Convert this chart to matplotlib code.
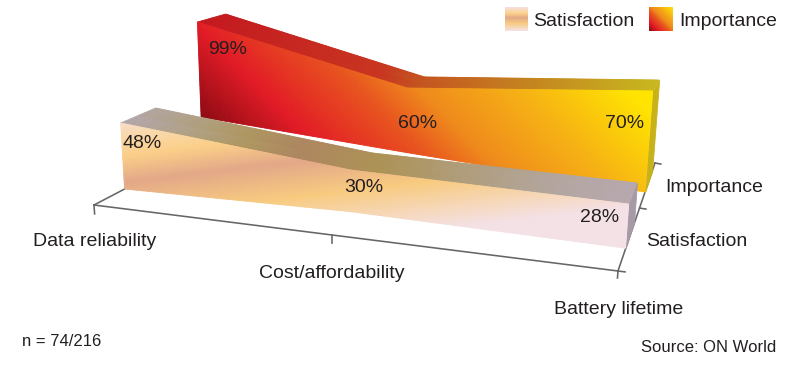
"""Pseudo-3D area chart: satisfaction and importance for three sensor-network issues."""
import matplotlib
matplotlib.use("Agg")
import matplotlib.pyplot as plt
import numpy as np
from matplotlib.colors import LinearSegmentedColormap, Normalize

plt.rcParams["font.family"] = ["Liberation Sans", "DejaVu Sans"]

W, H = 800, 366

CATEGORIES = ["Data reliability", "Cost/affordability", "Battery lifetime"]
SERIES = ["Satisfaction", "Importance"]

# printed percentages
satisfaction = [48, 30, 28]
importance = [99, 60, 70]

# the drawing is not to scale with the printed numbers, so the ribbon
# heights are read off the picture separately (z units of the 3D axes)
satisfaction_front = [59.3, 47.5, 58.8]
satisfaction_back = [48.7, 38.3, 55.6]
satisfaction_base = [-8.7, 0.0, 1.5]
importance_front = [108.2, 80.0, 139.8]
importance_back = [96.5, 69.6, 130.5]
importance_base = [1.7, 0.0, 0.0]

# where things sit on the floor of the box
CAT_X = [0.0, 0.4, 1.0]
IMP_X = [0.0, 0.415, 1.0]
DEPTH_TICKS = [0.0, 0.54, 1.0]
SAT_Y = (0.175, 0.39)
IMP_Y = (0.696, 0.91)

# camera: columns are x, y, z, 1 -> homogeneous reference pixels
K = 0.000258
CAMERA = np.array([
    [677.4, 201.77, -355 * K, 94.0],
    [133.29, -96.1, -4050 * K, 205.0],
    [0.2483, 0.23753, -K, 1.0],
])

LABEL_XY = {
    "cat": [(95, 241), (332, 274), (619, 309)],
    "depth": [(697, 241), (714, 188)],
    "sat": [(142, 144), (364, 188), (600, 218)],
    "imp": [(228, 49), (418, 124), (625, 124)],
}

sat_cmap = LinearSegmentedColormap.from_list("sat", [
    (0.0, "#f3dfe2"), (0.14, "#fad9ae"), (0.28, "#fbcf88"), (0.45, "#e3a888"),
    (0.68, "#f8cb80"), (1.0, "#f4e1e6")])
sat_norm = Normalize(80, 235)
imp_cmap = LinearSegmentedColormap.from_list("imp", [
    (0.0, "#8a0a12"), (0.196, "#e21b26"), (0.413, "#e8541f"), (0.543, "#ef8a1c"),
    (0.761, "#f6b214"), (1.0, "#ffe400")])
imp_norm = Normalize(80, 540)
sat_top_cmap = LinearSegmentedColormap.from_list("sat_top", [
    (0.0, "#b3a7b0"), (0.15, "#b0a080"), (0.25, "#ae9660"), (0.35, "#ad8660"),
    (0.5, "#ad9255"), (0.65, "#af9c78"), (0.85, "#b3a6a0"), (1.0, "#b7a8b0")])
imp_top_cmap = LinearSegmentedColormap.from_list("imp_top", [
    (0.0, "#c4161f"), (0.4, "#c8351f"), (0.47, "#c4501f"), (0.7, "#c4801f"),
    (1.0, "#c8b81e")])


def to_px(x, y, z):
    pts = np.stack([x, y, z, np.ones_like(x)], axis=-1) @ CAMERA.T
    return pts[..., 0] / pts[..., 2], pts[..., 1] / pts[..., 2]


def camera_proj():
    # the fitted camera takes the place of the usual mplot3d view
    inv = ax.transData.inverted().get_matrix()
    disp = np.vstack([CAMERA[0], H * CAMERA[2] - CAMERA[1], CAMERA[2]])
    xyw = inv @ disp
    return np.array([xyw[0], xyw[1], [0, 0, 0, 1.0], xyw[2]])


def mid(a):
    return (a[:-1, :-1] + a[1:, :-1] + a[:-1, 1:] + a[1:, 1:]) / 4


def draw_surface(x, y, z, colors, zorder):
    ax.plot_surface(x, y, z, facecolors=colors, rstride=1, cstride=1, shade=False,
                    linewidth=0.6, antialiased=True, clip_on=False, zorder=zorder)


def draw_ribbon(pos, ys, front, back, base, front_color, top_cmap, side_color, zorder):
    s = np.union1d(np.linspace(0, 1, 200), pos)
    r = np.linspace(0, 1, 50)
    top_f = np.interp(s, pos, front)
    top_b = np.interp(s, pos, back)
    low = np.interp(s, pos, base)

    # top face, colour runs left to right
    ss, rr = np.meshgrid(s, np.linspace(0, 1, 3), indexing="ij")
    yy = ys[0] + (ys[1] - ys[0]) * rr
    zz = top_f[:, None] + (top_b - top_f)[:, None] * rr
    u, _ = to_px(ss, yy, zz)
    draw_surface(ss, yy, zz, top_cmap(Normalize(u.min(), u.max())(mid(u))), zorder)

    # side face at the right end
    sx = np.full((2, 2), pos[-1])
    sy = np.array([[ys[0], ys[0]], [ys[1], ys[1]]])
    sz = np.array([[base[-1], front[-1]], [base[-1], back[-1]]])
    sc = np.empty((1, 1, 4))
    sc[0, 0] = matplotlib.colors.to_rgba(side_color)
    draw_surface(sx, sy, sz, sc, zorder)

    # front face, colour comes from the picture position
    ss, rr = np.meshgrid(s, r, indexing="ij")
    yy = np.full_like(ss, ys[0])
    zz = low[:, None] + (top_f - low)[:, None] * rr
    u, v = to_px(ss, yy, zz)
    draw_surface(ss, yy, zz, front_color(mid(u), mid(v)), zorder)


def px_text(xy, s, size=14, ha="center", va="center"):
    fig.text(xy[0] / W, 1 - xy[1] / H, s, fontsize=size, ha=ha, va=va, color="#231f20")


fig = plt.figure(figsize=(W / 100, H / 100), dpi=100)
ax = fig.add_axes([0, 0, 1, 1], projection="3d", computed_zorder=False)
ax.set_axis_off()
ax.set_proj_type("ortho")  # no near-plane clipping of the lines
ax.get_proj = camera_proj

# floor axes
AXIS = dict(color="#666666", lw=1.15, clip_on=False, zorder=1)
ax.plot([0, 1], [0, 0], [0, 0], **AXIS)
ax.plot([1, 1], [0, 1], [0, 0], **AXIS)
ax.plot([0, 0], [0, SAT_Y[0]], [0, satisfaction_base[0]], **AXIS)
for cx in CAT_X:
    ax.plot([cx, cx], [0, 0], [0, -9], **AXIS)
for dy in DEPTH_TICKS:
    ax.plot([1, 1.017], [dy, dy], [0, 0], **AXIS)

draw_ribbon(IMP_X, IMP_Y, importance_front, importance_back, importance_base,
            lambda u, v: imp_cmap(imp_norm(u - v)), imp_top_cmap, "#c8b21a", 2)
draw_ribbon(CAT_X, SAT_Y, satisfaction_front, satisfaction_back, satisfaction_base,
            lambda u, v: sat_cmap(sat_norm(v + 0.12 * (u - 400))), sat_top_cmap, "#a69aa6", 3)

# text
for xy, name in zip(LABEL_XY["cat"], CATEGORIES):
    px_text(xy, name)
for xy, name in zip(LABEL_XY["depth"], SERIES):
    px_text(xy, name)
for xy, val in zip(LABEL_XY["sat"], satisfaction):
    px_text(xy, f"{val}%")
for xy, val in zip(LABEL_XY["imp"], importance):
    px_text(xy, f"{val}%")
px_text((22, 342), "n = 74/216", size=12, ha="left")
px_text((776, 348), "Source: ON World", size=12, ha="right")

# legend swatches use the same gradients
sw_sat = fig.add_axes([505 / W, 1 - 31 / H, 23 / W, 24 / H])
sw_sat.imshow(sat_norm(np.linspace(80, 235, 64))[:, None], cmap=sat_cmap, vmin=0, vmax=1,
              aspect="auto")
sw_sat.axis("off")
gx, gy = np.meshgrid(np.linspace(0, 1, 64), np.linspace(0, 1, 64))
sw_imp = fig.add_axes([649 / W, 1 - 31 / H, 24 / W, 24 / H])
sw_imp.imshow((gx + gy) / 2, cmap=imp_cmap, vmin=0, vmax=1, origin="lower", aspect="auto")
sw_imp.axis("off")
px_text((533, 22), SERIES[0], ha="left")
px_text((679, 22), SERIES[1], ha="left")

fig.savefig("out.png", dpi=100)
